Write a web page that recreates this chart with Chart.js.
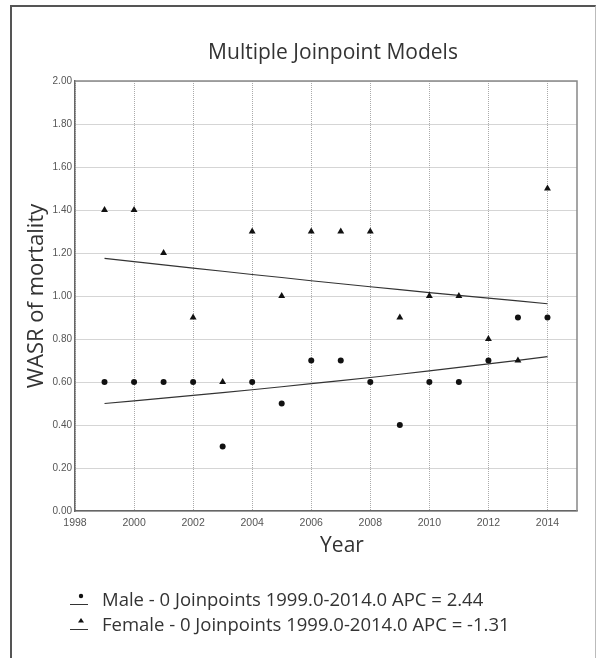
<!DOCTYPE html>
<html>
<head>
<meta charset="utf-8">
<script src="https://cdn.jsdelivr.net/npm/chart.js@4"></script>
<style>
  html, body { margin: 0; padding: 0; background: #fff; }
  .wrap { position: relative; width: 598px; height: 658px; }
  .frame {
    position: absolute; left: 10px; top: 5px; width: 583px; height: 660px;
    border-left: 2px solid #555; border-top: 2px solid #555; border-right: 1px solid #bbb;
  }
  canvas { position: absolute; left: 0; top: 0; }
</style>
</head>
<body>
<div class="wrap">
  <div class="frame"></div>
  <canvas id="chart" width="598" height="658"></canvas>
</div>
<script>
const years = [1999, 2000, 2001, 2002, 2003, 2004, 2005, 2006, 2007, 2008, 2009, 2010, 2011, 2012, 2013, 2014];
const maleObs = [0.6, 0.6, 0.6, 0.6, 0.3, 0.6, 0.5, 0.7, 0.7, 0.6, 0.4, 0.6, 0.6, 0.7, 0.9, 0.9];
const femaleObs = [1.4, 1.4, 1.2, 0.9, 0.6, 1.3, 1.0, 1.3, 1.3, 1.3, 0.9, 1.0, 1.0, 0.8, 0.7, 1.5];
// fitted joinpoint models
const maleFit = [0.500, 0.512, 0.525, 0.538, 0.551, 0.564, 0.578, 0.592, 0.606, 0.621, 0.636, 0.652, 0.668, 0.684, 0.701, 0.718];
const femaleFit = [1.175, 1.160, 1.145, 1.130, 1.115, 1.100, 1.086, 1.071, 1.057, 1.043, 1.030, 1.016, 1.003, 0.990, 0.977, 0.964];
const legendLabels = [
  'Male - 0 Joinpoints 1999.0-2014.0 APC = 2.44',
  'Female - 0 Joinpoints 1999.0-2014.0 APC = -1.31'
];
const chartTitle = 'Multiple Joinpoint Models';
const xTitle = 'Year';
const yTitle = 'WASR of mortality';

const pts = (ys) => years.map((x, i) => ({ x: x, y: ys[i] }));

const textFont = '"Open Sans", "Noto Sans", sans-serif';

const decorations = {
  id: 'decorations',
  afterDraw(chart) {
    const ctx = chart.ctx;
    const a = chart.chartArea;
    ctx.save();
    // top and right frame of the plot
    ctx.strokeStyle = '#888';
    ctx.lineWidth = 1.5;
    ctx.beginPath();
    ctx.moveTo(a.left, a.top);
    ctx.lineTo(a.right, a.top);
    ctx.lineTo(a.right, a.bottom);
    ctx.stroke();

    ctx.fillStyle = '#333';
    ctx.textAlign = 'center';
    ctx.textBaseline = 'alphabetic';
    ctx.font = '21px ' + textFont;
    ctx.fillText(chartTitle, 333, 59);

    ctx.fillText(xTitle, 342, 552);

    ctx.save();
    ctx.font = '22px ' + textFont;
    ctx.translate(43, (a.top + a.bottom) / 2);
    ctx.rotate(-Math.PI / 2);
    ctx.fillText(yTitle, 0, 0);
    ctx.restore();

    // legend: marker above a short line, like the fitted model symbol
    const rows = [596, 621];
    ctx.textAlign = 'left';
    ctx.font = '18.5px ' + textFont;
    chart.data.datasets.filter(d => d.legend).forEach((d, i) => {
      const y = rows[i];
      ctx.fillStyle = '#111';
      if (d.pointStyle === 'triangle') {
        ctx.beginPath();
        ctx.moveTo(81, y - 3);
        ctx.lineTo(84, y + 1.5);
        ctx.lineTo(78, y + 1.5);
        ctx.closePath();
        ctx.fill();
      } else {
        ctx.beginPath();
        ctx.arc(81, y, 2.2, 0, Math.PI * 2);
        ctx.fill();
      }
      ctx.strokeStyle = '#333';
      ctx.lineWidth = 1;
      ctx.beginPath();
      ctx.moveTo(70, y + 8.5);
      ctx.lineTo(88, y + 8.5);
      ctx.stroke();
      ctx.fillStyle = '#333';
      ctx.fillText(d.label, 102, y + 10);
    });
    ctx.restore();
  }
};

new Chart(document.getElementById('chart'), {
  type: 'scatter',
  data: {
    datasets: [
      {
        label: legendLabels[0],
        legend: true,
        data: pts(maleObs),
        pointStyle: 'circle',
        pointRadius: 3,
        pointBackgroundColor: '#111',
        pointBorderWidth: 0
      },
      {
        label: legendLabels[1],
        legend: true,
        data: pts(femaleObs),
        pointStyle: 'triangle',
        pointRadius: 4,
        pointBackgroundColor: '#111',
        pointBorderWidth: 0
      },
      {
        label: 'Male fit',
        data: pts(maleFit),
        showLine: true,
        pointRadius: 0,
        borderColor: '#333',
        borderWidth: 1.2
      },
      {
        label: 'Female fit',
        data: pts(femaleFit),
        showLine: true,
        pointRadius: 0,
        borderColor: '#333',
        borderWidth: 1.2
      }
    ]
  },
  options: {
    responsive: false,
    animation: false,
    layout: {
      padding: { left: 45, top: 81, right: 21, bottom: 127 }
    },
    plugins: {
      legend: { display: false },
      title: { display: false },
      tooltip: { enabled: false }
    },
    scales: {
      x: {
        type: 'linear',
        min: 1998,
        max: 2015,
        afterFit: (s) => { s.height = 20; },
        ticks: {
          stepSize: 2,
          includeBounds: false,
          padding: 6,
          color: '#555',
          font: { family: '"Liberation Sans", Arial, sans-serif', size: 10.5 },
          callback: (v) => String(v)
        },
        grid: { color: '#aaa', drawTicks: false, lineWidth: 1 },
        border: { color: '#666', width: 1.5, dash: [1, 1] }
      },
      y: {
        min: 0,
        max: 2,
        afterFit: (s) => { s.width = 30; },
        ticks: {
          stepSize: 0.2,
          padding: 3,
          color: '#555',
          font: { family: '"Liberation Sans", Arial, sans-serif', size: 10 },
          callback: (v) => v.toFixed(2)
        },
        grid: { color: '#aaa', drawTicks: false, lineWidth: 1 },
        border: { color: '#666', width: 1.5, dash: [1, 1] }
      }
    }
  },
  plugins: [decorations]
});
</script>
</body>
</html>
